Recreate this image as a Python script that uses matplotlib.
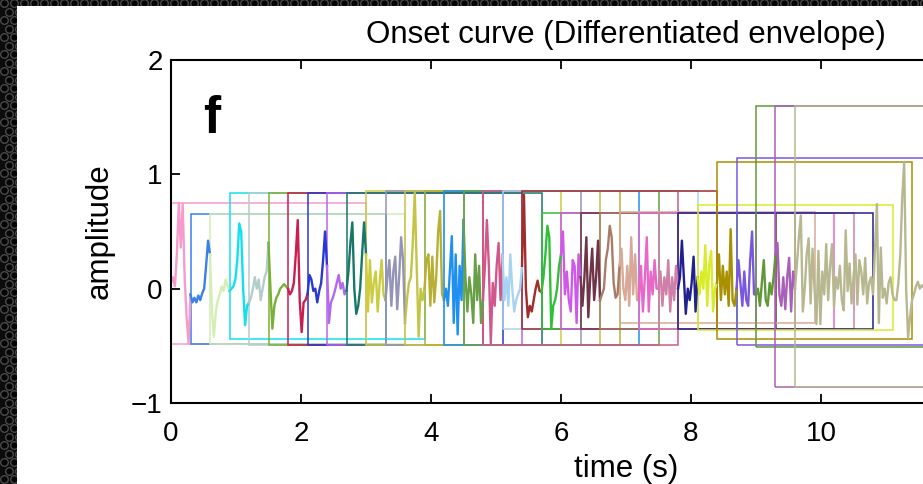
import numpy as np
import matplotlib.pyplot as plt
from matplotlib.patches import Rectangle

plt.rcParams['font.family'] = ['Liberation Sans', 'DejaVu Sans']

# sampling of the onset curve and framing of the segments
dt = 0.03
hop = 0.3
win = 3.0

# onset curve values, one row per 0.3 s segment
onset = [
    0.05, 0.1, 0.02, 0.3, 0.75, 0.36, 0.74, 0.1, -0.25, -0.48,
    -0.05, -0.12, -0.08, -0.12, -0.06, -0.1, -0.04, 0.0, 0.2, 0.42,
    0.3, -0.2, -0.42, -0.2, -0.1, -0.05, 0.02, -0.02, 0.08, 0.02,
    -0.02, 0.0, 0.02, 0.08, 0.25, 0.57, 0.5, 0.0, -0.32, -0.15,
    -0.12, -0.08, 0.0, 0.1, 0.0, 0.08, -0.1, 0.0, 0.1, 0.15,
    0.4, 0.0, -0.35, -0.15, -0.08, -0.05, 0.0, 0.02, 0.04, 0.02,
    0.0, -0.05, -0.02, 0.05, 0.3, 0.6, -0.1, -0.38, -0.12, -0.1,
    -0.05, 0.12, 0.08, -0.02, 0.0, -0.12, -0.02, 0.05, 0.25, 0.5,
    0.2, -0.3, -0.12, -0.08, -0.02, 0.05, 0.12, 0.0, 0.05, -0.05,
    -0.02, 0.15, 0.4, 0.58, 0.0, -0.22, -0.15, 0.0, 0.3, 0.58,
    0.3, -0.2, 0.25, -0.12, 0.05, 0.15, -0.2, 0.05, 0.25, -0.05,
    -0.1, 0.1, 0.25, -0.15, 0.15, 0.28, -0.18, 0.1, 0.45, 0.25,
    -0.3, -0.1, 0.05, 0.1, 0.4, 0.84, 0.2, -0.42, 0.0, -0.1,
    0.0, 0.25, 0.3, -0.15, 0.28, -0.12, 0.1, 0.5, 0.68, -0.05,
    -0.1, 0.0, -0.15, 0.15, 0.46, -0.3, 0.3, -0.4, 0.2, -0.1,
    0.6, 0.1, -0.2, 0.1, -0.05, -0.3, 0.3, -0.1, 0.2, -0.3,
    -0.1, 0.2, 0.6, 0.2, -0.48, 0.05, -0.15, 0.2, 0.4, -0.1,
    0.3, -0.1, 0.1, -0.15, 0.3, 0.0, -0.2, -0.1, -0.05, 0.0,
    0.2, 0.82, 0.0, -0.25, -0.15, -0.2, -0.1, 0.0, 0.07, -0.02,
    -0.03, 0.1, 0.3, 0.55, 0.45, -0.35, -0.15, -0.1, 0.0, 0.2,
    0.3, 0.5, -0.05, 0.15, -0.1, -0.2, 0.25, 0.2, -0.3, 0.3,
    0.1, -0.15, 0.1, 0.45, -0.25, 0.1, 0.35, -0.1, 0.1, 0.42,
    -0.1, -0.05, 0.0, 0.25, 0.35, 0.55, 0.45, 0.05, -0.08, -0.05,
    0.2, 0.35, 0.0, -0.1, 0.2, -0.15, 0.45, -0.05, 0.3, -0.1,
    -0.1, 0.2, -0.2, 0.1, 0.45, -0.2, 0.15, -0.05, 0.25, 0.0,
    0.0, 0.15, -0.15, 0.1, -0.05, 0.25, -0.2, 0.1, -0.1, 0.2,
    0.0, 0.1, 0.42, 0.1, -0.22, 0.0, -0.1, 0.05, 0.28, -0.2,
    0.1, -0.05, 0.15, 0.0, 0.38, -0.15, 0.2, 0.33, -0.2, 0.0,
    0.05, 0.3, -0.1, 0.2, -0.05, 0.15, -0.15, 0.52, -0.1, -0.15,
    0.0, 0.25, 0.05, -0.15, 0.15, -0.1, -0.15, 0.25, 0.5, -0.05,
    -0.05, 0.0, -0.15, 0.05, 0.25, -0.1, -0.15, 0.05, -0.05, 0.1,
    0.3, 0.4, -0.05, -0.15, 0.1, -0.18, 0.1, 0.27, -0.2, 0.15,
    # last segment runs on to the end
    0.0, 0.22, 0.45, 0.64, -0.2, 0.0, 0.3, 0.44, -0.13, 0.35,
    0.0, -0.31, 0.33, -0.31, 0.15, -0.05, 0.39, -0.1, 0.2, 0.39,
    -0.16, 0.1, 0.0, 0.2, -0.1, -0.19, 0.51, -0.02, 0.22, -0.13,
    0.1, 0.3, -0.14, 0.25, 0.15, -0.05, 0.27, -0.13, 0.05, 0.1,
    -0.05, 0.33, 0.74, -0.3, 0.36, -0.08, 0.0, -0.13, 0.05, 0.1,
    -0.05, -0.1, -0.1, 0.05, 0.3, 0.8, 1.11, 0.0, -0.43, -0.25,
    -0.1, -0.05, 0.02, 0.06, 0.0, 0.03, 0.01, 0.02, 0.0, -0.05,
]

seg_colors = [
    '#f59ccc', '#3a80e8', '#d4eeb4', '#10e0f0', '#b4cccc', '#78b038',
    '#c81e50', '#2838d0', '#b468f0', '#187868', '#cccc40', '#9494b8',
    '#c4c448', '#b8b034', '#2090f0', '#68a048', '#d0588c', '#a8d4f0',
    '#a02c2c', '#30c038', '#d058e8', '#703448', '#a87c68', '#d8a898',
    '#e868c8', '#d080a8', '#202090', '#d8ec28', '#a89000', '#7858e0',
    '#609838', '#a860b8', '#b8b890',
]

box_top = [
    0.75, 0.65, 0.65, 0.84, 0.84, 0.84, 0.84, 0.84, 0.84, 0.84, 0.85,
    0.85, 0.85, 0.85, 0.85, 0.85, 0.85, 0.85, 0.85, 0.66, 0.66, 0.66,
    0.66, 0.67, 0.66, 0.66, 0.66, 0.73, 1.11, 1.14, 1.60, 1.60, 1.60,
]
box_bottom = [
    -0.48, -0.48, -0.48, -0.44, -0.49, -0.49, -0.49, -0.49, -0.49, -0.49, -0.49,
    -0.49, -0.49, -0.49, -0.49, -0.49, -0.49, -0.35, -0.35, -0.35, -0.35, -0.35,
    -0.35, -0.30, -0.35, -0.35, -0.35, -0.36, -0.44, -0.49, -0.51, -0.86, -0.86,
]

W, H = 923, 484
fig = plt.figure(figsize=(W / 100, H / 100), dpi=100)

# dark perforated frame round the white panel
bg = fig.add_axes([0, 0, 1, 1], zorder=-1)
bg.set_xlim(0, W)
bg.set_ylim(H, 0)
bg.axis('off')
bg.add_patch(Rectangle((0, 0), W, H, fc='#0c0c0c', ec='none'))
hx, hy = [], []
for r, yy in enumerate(np.arange(3, H + 10, 8.5)):
    for xx in np.arange(4 + (r % 2) * 5, W + 10, 10):
        if xx < 20 or yy < 9:
            hx.append(xx)
            hy.append(yy)
bg.scatter(hx, hy, s=30, fc='#050505', ec='#4a4a4a', lw=1.0)
bg.add_patch(Rectangle((17, 6), W, H, fc='white', ec='none', zorder=3))

ax = fig.add_axes([171 / W, 1 - 403 / H, 910 / W, 343 / H])

t = np.arange(len(onset)) * dt
y = np.array(onset)
n_seg = len(seg_colors)
per_seg = int(round(hop / dt))
for i in range(n_seg):
    s = i * per_seg
    e = len(y) if i == n_seg - 1 else s + per_seg + 1
    ax.plot(t[s:e], y[s:e], color=seg_colors[i], lw=1.7)
    ax.add_patch(Rectangle((i * hop, box_bottom[i]), win, box_top[i] - box_bottom[i],
                           fill=False, ec=seg_colors[i], lw=1.1))

ax.set_xlim(0, 14)
ax.set_ylim(-1, 2)
ax.set_xticks(np.arange(0, 11, 2))
ax.set_yticks([-1, 0, 1, 2])
ax.tick_params(direction='in', length=6.5, width=1.3, top=True, right=True,
               labelsize=20)
ax.tick_params(axis='x', pad=13)
ax.tick_params(axis='y', pad=6)
for sp in ax.spines.values():
    sp.set_linewidth(1.5)

ax.set_title('Onset curve (Differentiated envelope)', fontsize=22.5, pad=12)
ax.set_xlabel('time (s)', fontsize=22.5, labelpad=5)
ax.set_ylabel('amplitude', fontsize=22.5, labelpad=12)
ax.text(0.49, 1.36, 'f', fontsize=37, fontweight='bold', va='baseline')

fig.savefig('out.png', dpi=100)
